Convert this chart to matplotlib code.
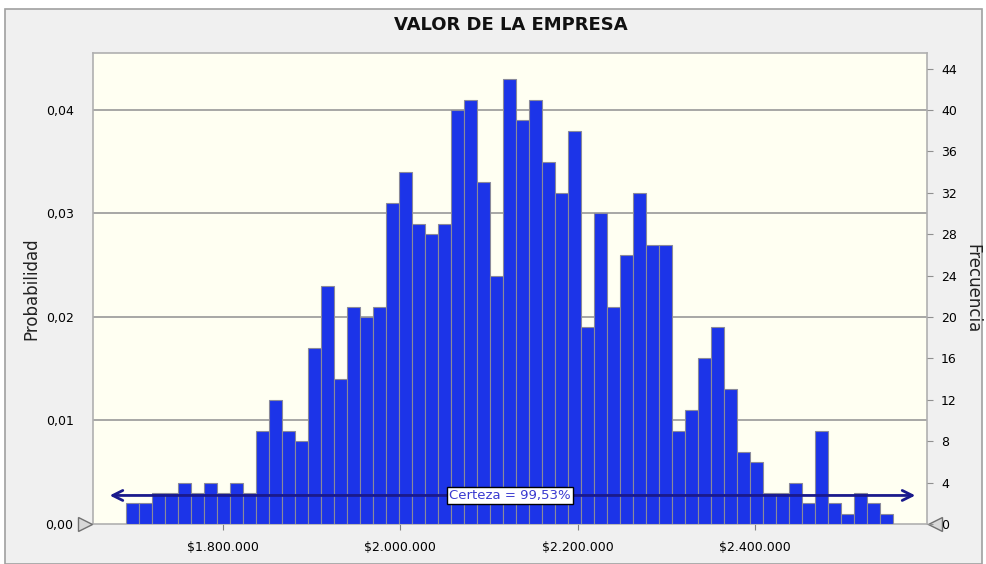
import matplotlib
matplotlib.use("Agg")
import matplotlib.pyplot as plt
import matplotlib.ticker as mticker
import matplotlib.transforms as mtrans
from matplotlib.patches import Rectangle
import numpy as np

# ---- data ----
title = "VALOR DE LA EMPRESA"
counts = [2, 2, 3, 3, 4, 3, 4, 3, 4, 3,
          9, 12, 9, 8, 17, 23, 14, 21, 20, 21,
          31, 34, 29, 28, 29, 40, 41, 33, 24, 43,
          39, 41, 35, 32, 38, 19, 30, 21, 26, 32,
          27, 27, 9, 11, 16, 19, 13, 7, 6, 3,
          3, 4, 2, 9, 2, 1, 3, 2, 1]
n_trials = 1000
bin_start = 1_691_000
bin_width = 14_653
x_ticks = [1_800_000, 2_000_000, 2_200_000, 2_400_000]
prob_ticks = [0.00, 0.01, 0.02, 0.03, 0.04]
freq_ticks = list(range(0, 45, 4))
certainty_label = "Certeza = 99,53%"

# ---- figure ----
fig = plt.figure(figsize=(9.87, 5.64), dpi=100, facecolor="white")
fig.patches.append(Rectangle((5 / 987, 0), 977 / 987, 555 / 564,
                             transform=fig.transFigure, facecolor="#f0f0f0",
                             edgecolor="#a0a0a0", linewidth=1.2, zorder=-10))

ax = fig.add_axes([93 / 987, 1 - 524 / 564, 834 / 987, 471 / 564])
ax.set_facecolor("#fffff2")

probs = np.array(counts) / n_trials
lefts = bin_start + bin_width * np.arange(len(counts))
ax.bar(lefts, probs, width=bin_width, align="edge", color="#1c34e8",
       edgecolor="#8a8a9a", linewidth=0.8, zorder=3)

ax.set_xlim(1_653_900, 2_593_800)
ymax = 45.5 / n_trials
ax.set_ylim(0, ymax)

ax.set_yticks(prob_ticks)
ax.yaxis.set_major_formatter(mticker.FuncFormatter(lambda v, p: f"{v:.2f}".replace(".", ",")))
ax.set_xticks(x_ticks)
ax.xaxis.set_major_formatter(mticker.FuncFormatter(
    lambda v, p: "$" + f"{int(v):,}".replace(",", ".")))
for yv in prob_ticks[1:]:
    ax.axhline(yv, color="#a0a0a0", linewidth=1.3, zorder=1)

ax.tick_params(axis="x", labelsize=9, length=4, color="#808080", pad=8)
ax.tick_params(axis="y", labelsize=9, length=0, pad=14)
for s in ax.spines.values():
    s.set_color("#b0b0b0")
    s.set_linewidth(1.2)

ax2 = ax.twinx()
ax2.set_ylim(0, ymax * n_trials)
ax2.set_yticks(freq_ticks)
ax2.tick_params(axis="y", labelsize=9, length=4, color="#909090", pad=6)
for s in ax2.spines.values():
    s.set_visible(False)

ax.set_ylabel("Probabilidad", fontsize=12, color="#222222", labelpad=4)
ax2.set_ylabel("Frecuencia", fontsize=12, color="#222222", rotation=270, labelpad=18)
fig.text(0.518, 1 - 25 / 564, title, ha="center", va="center",
         fontsize=13, fontweight="bold", color="#111111")

# certainty range arrow
trans = mtrans.blended_transform_factory(ax.transAxes, ax.transAxes)
yar = 0.0606
ax.annotate("", xy=(0.020, yar), xytext=(0.986, yar), xycoords=trans,
            textcoords=trans,
            arrowprops=dict(arrowstyle="<->", color="#1a1a8c", lw=2.0,
                            mutation_scale=18, shrinkA=0, shrinkB=0),
            zorder=5)
ax.text(0.5, yar, certainty_label, transform=trans, ha="center", va="center",
        fontsize=9.5, color="#3a3ad0", zorder=6,
        bbox=dict(boxstyle="square,pad=0.15", facecolor="white",
                  edgecolor="black", linewidth=1))

# end markers
ax.plot([-0.0096], [0], marker=">", markersize=10, color="#d8d8d8",
        markeredgecolor="#707070", transform=ax.transAxes, clip_on=False, zorder=7)
ax.plot([1.0096], [0], marker="<", markersize=10, color="#d8d8d8",
        markeredgecolor="#707070", transform=ax.transAxes, clip_on=False, zorder=7)

fig.savefig("out.png", dpi=100, facecolor=fig.get_facecolor())
